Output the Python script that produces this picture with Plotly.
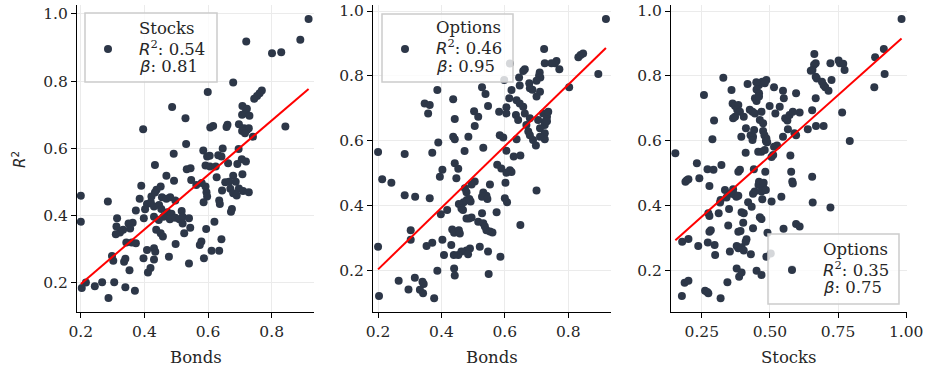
import plotly.graph_objects as go

W, H = 931, 368

# ---------------- data ----------------
# Panel 1: Bonds (x) vs Stocks (y)
p1_x = [0.916,0.720,0.890,0.801,0.830,0.679,0.599,0.769,0.762,0.754,0.745,0.487,0.708,0.529,0.722,0.717,0.707,0.730,
        0.396,0.607,0.616,0.661,0.658,0.843,0.697,0.713,0.722,0.728,0.707,0.716,0.741,0.531,0.492,0.585,0.605,0.597,
        0.646,0.632,0.642,0.663,0.696,0.706,0.692,0.719,0.592,0.606,0.624,0.433,0.533,0.545,0.469,0.627,0.679,0.708,
        0.687,0.654,0.666,0.547,0.563,0.592,0.580,0.493,0.390,0.451,0.438,0.670,0.644,0.679,0.697,0.710,0.728,0.595,
        0.597,0.690,0.385,0.422,0.433,0.455,0.469,0.481,0.497,0.635,0.637,0.586,0.408,0.420,0.430,0.446,0.453,0.675,
        0.672,0.373,0.402,0.517,0.472,0.485,0.430,0.445,0.460,0.480,0.497,0.510,0.520,0.540,0.314,0.398,0.200,0.620,
        0.520,0.363,0.350,0.544,0.594,0.355,0.333,0.323,0.312,0.437,0.451,0.458,0.525,0.310,0.579,0.574,0.642,0.498,
        0.343,0.360,0.373,0.611,0.635,0.408,0.430,0.434,0.298,0.302,0.397,0.430,0.477,0.587,0.336,0.340,0.353,0.419,
        0.411,0.540,0.216,0.203,0.244,0.267,0.305,0.340,0.370,0.287,0.200,0.285]
p1_y = [0.985,0.918,0.923,0.883,0.886,0.796,0.768,0.772,0.764,0.756,0.748,0.723,0.726,0.690,0.718,0.705,0.700,0.697,
        0.657,0.662,0.667,0.670,0.664,0.665,0.672,0.660,0.655,0.660,0.652,0.645,0.635,0.613,0.584,0.594,0.578,0.576,
        0.600,0.580,0.576,0.556,0.598,0.568,0.554,0.561,0.549,0.546,0.546,0.551,0.538,0.541,0.519,0.514,0.519,0.523,
        0.501,0.499,0.501,0.506,0.491,0.487,0.497,0.504,0.489,0.487,0.477,0.480,0.475,0.467,0.481,0.473,0.470,0.470,
        0.457,0.460,0.450,0.457,0.469,0.455,0.450,0.455,0.445,0.445,0.435,0.440,0.435,0.440,0.427,0.432,0.420,0.420,
        0.412,0.415,0.419,0.414,0.410,0.406,0.397,0.387,0.397,0.389,0.394,0.389,0.397,0.392,0.392,0.392,0.382,0.382,
        0.377,0.379,0.377,0.364,0.360,0.362,0.358,0.350,0.368,0.358,0.348,0.338,0.348,0.345,0.323,0.313,0.330,0.316,
        0.320,0.320,0.318,0.296,0.296,0.298,0.303,0.293,0.280,0.266,0.273,0.270,0.278,0.273,0.263,0.272,0.238,0.244,
        0.231,0.258,0.201,0.185,0.190,0.202,0.202,0.187,0.177,0.155,0.459,0.442]

# Panel 2: Bonds (x) vs Options (y)
p2_x = [0.919,0.724,0.832,0.839,0.847,0.895,0.803,0.763,0.758,0.747,0.726,0.772,0.710,0.708,0.712,0.700,0.663,0.658,
        0.645,0.647,0.616,0.598,0.621,0.677,0.679,0.687,0.711,0.700,0.614,0.528,0.539,0.387,0.437,0.347,0.363,0.358,
        0.442,0.503,0.516,0.547,0.582,0.605,0.605,0.637,0.647,0.658,0.663,0.635,0.642,0.679,0.668,0.721,0.733,0.726,
        0.705,0.737,0.726,0.733,0.711,0.726,0.674,0.679,0.689,0.698,0.726,0.711,0.505,0.437,0.442,0.485,0.390,0.584,
        0.595,0.637,0.532,0.649,0.628,0.284,0.200,0.371,0.473,0.605,0.442,0.453,0.403,0.395,0.447,0.576,0.589,0.616,
        0.621,0.605,0.602,0.700,0.553,0.505,0.495,0.474,0.479,0.213,0.242,0.284,0.317,0.363,0.600,0.607,0.532,0.542,
        0.528,0.545,0.470,0.480,0.492,0.488,0.455,0.418,0.398,0.463,0.468,0.479,0.487,0.495,0.528,0.574,0.516,0.532,
        0.537,0.542,0.553,0.561,0.649,0.303,0.303,0.434,0.440,0.455,0.458,0.403,0.371,0.353,0.431,0.200,0.521,0.547,
        0.490,0.479,0.463,0.453,0.439,0.484,0.408,0.586,0.440,0.442,0.387,0.549,0.265,0.316,0.340,0.344,0.332,0.342,
        0.296,0.377,0.203]
p2_y = [0.975,0.883,0.857,0.864,0.869,0.806,0.765,0.846,0.839,0.839,0.839,0.820,0.810,0.800,0.795,0.785,0.820,0.815,
        0.795,0.770,0.838,0.787,0.756,0.777,0.762,0.757,0.751,0.736,0.731,0.765,0.744,0.756,0.728,0.715,0.710,0.684,
        0.667,0.691,0.674,0.707,0.689,0.703,0.684,0.725,0.715,0.705,0.684,0.679,0.664,0.669,0.648,0.684,0.674,0.658,
        0.664,0.689,0.648,0.660,0.638,0.623,0.628,0.617,0.602,0.585,0.604,0.612,0.645,0.612,0.604,0.612,0.594,0.617,
        0.610,0.604,0.578,0.554,0.551,0.559,0.565,0.563,0.568,0.569,0.530,0.513,0.510,0.489,0.484,0.526,0.514,0.509,
        0.503,0.501,0.470,0.446,0.465,0.474,0.465,0.453,0.441,0.481,0.470,0.432,0.427,0.422,0.422,0.410,0.440,0.430,
        0.427,0.420,0.410,0.417,0.412,0.420,0.405,0.386,0.373,0.391,0.386,0.360,0.360,0.363,0.376,0.379,0.350,0.345,
        0.335,0.324,0.320,0.317,0.340,0.324,0.294,0.326,0.316,0.324,0.314,0.294,0.285,0.275,0.278,0.273,0.273,0.258,
        0.267,0.261,0.258,0.247,0.247,0.250,0.247,0.242,0.206,0.184,0.199,0.189,0.168,0.177,0.165,0.158,0.140,0.129,
        0.141,0.114,0.121]

# Panel 3: Stocks (x) vs Options (y)
p3_x = [0.983,0.918,0.886,0.921,0.883,0.663,0.668,0.662,0.656,0.650,0.668,0.672,0.722,0.752,0.757,0.769,0.774,0.726,
        0.703,0.715,0.697,0.691,0.765,0.793,0.668,0.655,0.669,0.697,0.639,0.609,0.596,0.548,0.551,0.596,0.515,0.460,
        0.472,0.487,0.481,0.418,0.329,0.450,0.451,0.460,0.445,0.451,0.460,0.499,0.520,0.536,0.556,0.564,0.572,0.584,
        0.566,0.590,0.548,0.359,0.363,0.372,0.384,0.380,0.365,0.372,0.390,0.404,0.426,0.436,0.445,0.412,0.395,0.429,
        0.438,0.436,0.442,0.475,0.480,0.487,0.485,0.490,0.463,0.475,0.469,0.258,0.295,0.289,0.153,0.232,0.241,0.190,
        0.195,0.201,0.271,0.293,0.322,0.278,0.335,0.384,0.390,0.411,0.457,0.469,0.481,0.487,0.515,0.526,0.506,0.512,
        0.575,0.578,0.582,0.584,0.483,0.441,0.460,0.458,0.467,0.475,0.469,0.444,0.438,0.477,0.485,0.472,0.506,0.542,
        0.420,0.433,0.365,0.356,0.341,0.319,0.317,0.369,0.377,0.384,0.312,0.274,0.278,0.350,0.347,0.396,0.404,0.402,
        0.384,0.392,0.438,0.463,0.469,0.491,0.550,0.657,0.655,0.596,0.609,0.722,0.283,0.278,0.272,0.297,0.299,0.237,
        0.178,0.201,0.353,0.378,0.384,0.396,0.404,0.414,0.411,0.430,0.487,0.378,0.387,0.396,0.451,0.469,0.581,0.187,
        0.201,0.177,0.262,0.274,0.270,0.319,0.344,0.503]
p3_y = [0.975,0.883,0.857,0.806,0.765,0.867,0.839,0.834,0.818,0.816,0.797,0.792,0.839,0.847,0.839,0.837,0.818,0.787,
        0.765,0.754,0.771,0.782,0.687,0.599,0.731,0.694,0.645,0.645,0.635,0.687,0.617,0.754,0.731,0.746,0.765,0.772,
        0.782,0.787,0.777,0.775,0.794,0.780,0.758,0.746,0.731,0.722,0.736,0.707,0.684,0.705,0.669,0.662,0.679,0.689,
        0.635,0.623,0.612,0.756,0.715,0.707,0.710,0.695,0.669,0.674,0.689,0.674,0.695,0.689,0.684,0.638,0.612,0.617,
        0.612,0.602,0.633,0.630,0.617,0.607,0.600,0.595,0.664,0.654,0.689,0.741,0.662,0.604,0.561,0.530,0.484,0.473,
        0.478,0.481,0.512,0.510,0.525,0.460,0.448,0.504,0.510,0.563,0.566,0.566,0.571,0.597,0.581,0.585,0.550,0.556,
        0.554,0.504,0.474,0.468,0.504,0.512,0.473,0.463,0.468,0.456,0.443,0.443,0.436,0.470,0.448,0.419,0.412,0.427,
        0.410,0.396,0.450,0.437,0.425,0.417,0.409,0.434,0.427,0.430,0.376,0.376,0.368,0.389,0.338,0.379,0.376,0.347,
        0.319,0.321,0.330,0.364,0.358,0.316,0.328,0.409,0.489,0.343,0.335,0.394,0.324,0.319,0.286,0.278,0.247,0.275,
        0.288,0.297,0.258,0.275,0.268,0.271,0.261,0.296,0.288,0.250,0.242,0.206,0.180,0.193,0.199,0.186,0.203,0.162,
        0.168,0.121,0.137,0.129,0.133,0.114,0.163,0.252]

x_titles = ["Bonds", "Bonds", "Stocks"]
legend_names = ["Stocks", "Options", "Options"]
r2_values = [0.54, 0.46, 0.35]
betas = [0.81, 0.95, 0.75]
intercepts = [0.035, 0.013, 0.178]
x_tickvals = [[0.2, 0.4, 0.6, 0.8], [0.2, 0.4, 0.6, 0.8], [0.25, 0.5, 0.75, 1.0]]
x_ticktext = [["0.2", "0.4", "0.6", "0.8"], ["0.2", "0.4", "0.6", "0.8"], ["0.25", "0.50", "0.75", "1.00"]]
y_tickvals = [0.2, 0.4, 0.6, 0.8, 1.0]
y_ticktext = ["0.2", "0.4", "0.6", "0.8", "1.0"]

# ---------------- layout geometry ----------------
x_ranges = [[0.188, 0.933], [0.184, 0.935], [0.137, 1.003]]
y_ranges = [[0.1135, 1.0265], [0.0715, 1.0185], [0.0715, 1.0185]]
px_domains = [(77, 314), (373, 611), (671, 907)]
py_top, py_bottom = 5, 312

DOT = "#2d3748"
SERIF = "DejaVu Serif"
TXT = "#262626"
TICK_SIZE = 15.5
LABEL_SIZE = 16.5

fig = go.Figure()
panels = [(p1_x, p1_y), (p2_x, p2_y), (p3_x, p3_y)]
for i, (xs, ys) in enumerate(panels):
    ax = "" if i == 0 else str(i + 1)
    fig.add_trace(go.Scatter(x=xs, y=ys, mode="markers", xaxis="x" + ax, yaxis="y" + ax,
                             marker=dict(color=DOT, size=8, line=dict(width=0)), showlegend=False))
    x0, x1 = min(xs), max(xs)
    fig.add_trace(go.Scatter(x=[x0, x1], y=[intercepts[i] + betas[i] * x0, intercepts[i] + betas[i] * x1],
                             mode="lines", xaxis="x" + ax, yaxis="y" + ax,
                             line=dict(color="#ff0000", width=2), showlegend=False))

axis_common = dict(showgrid=True, gridcolor="#ebebeb", gridwidth=1, zeroline=False,
                   showline=True, linecolor="#000000", linewidth=1.1,
                   ticks="outside", ticklen=5, tickwidth=1.1, tickcolor="#000000",
                   tickfont=dict(family=SERIF, size=TICK_SIZE, color=TXT), automargin=False)

layout = dict(width=W, height=H, margin=dict(l=0, r=0, t=0, b=0),
              plot_bgcolor="white", paper_bgcolor="white", showlegend=False)
ydom = [1 - py_bottom / H, 1 - py_top / H]
for i in range(3):
    ax = "" if i == 0 else str(i + 1)
    layout["xaxis" + ax] = dict(axis_common, domain=[px_domains[i][0] / W, px_domains[i][1] / W],
                                range=x_ranges[i], tickvals=x_tickvals[i], ticktext=x_ticktext[i],
                                anchor="y" + ax)
    layout["yaxis" + ax] = dict(axis_common, domain=ydom, range=y_ranges[i],
                                tickvals=y_tickvals, ticktext=y_ticktext, anchor="x" + ax)
fig.update_layout(**layout)

shapes = []
annotations = []
# legends (box, marker, text) in pixel positions
leg_boxes = [(85, 13, 217, 82), (382, 14, 513, 82), (768, 234, 899, 304)]
leg_marker = [(108, 49), (405, 49), (792, 270)]
leg_text = [(137, 47.5), (434, 47), (821, 268.5)]
LINE_GAP = 19.3
for i in range(3):
    bx0, by0, bx1, by1 = leg_boxes[i]
    shapes.append(dict(type="rect", xref="paper", yref="paper", x0=bx0 / W, x1=bx1 / W,
                       y0=1 - by1 / H, y1=1 - by0 / H, fillcolor="rgba(255,255,255,0.8)",
                       line=dict(color="#cccccc", width=1.5), layer="above"))
    mx, my = leg_marker[i]
    shapes.append(dict(type="circle", xref="paper", yref="paper", xsizemode="pixel", ysizemode="pixel",
                       xanchor=mx / W, yanchor=1 - my / H, x0=-4, x1=4, y0=-4, y1=4,
                       fillcolor=DOT, line=dict(width=0), layer="above"))
    tx, ty = leg_text[i]
    lines = [legend_names[i],
             f"<span style='font-family:DejaVu Sans'><i>R</i></span><sup>2</sup>: {r2_values[i]:.2f}",
             f"<span style='font-family:DejaVu Sans'><i>β</i></span>: {betas[i]:.2f}"]
    for k, line in enumerate(lines):
        annotations.append(dict(text=line, xref="paper", yref="paper", x=tx / W,
                                y=1 - (ty + (k - 1) * LINE_GAP) / H,
                                xanchor="left", yanchor="middle", align="left", showarrow=False,
                                font=dict(family=SERIF, size=LABEL_SIZE, color=TXT)))

# axis titles
for i in range(3):
    cx = (px_domains[i][0] + px_domains[i][1]) / 2
    annotations.append(dict(text=x_titles[i], xref="paper", yref="paper", x=cx / W, y=1 - 357 / H,
                            xanchor="center", yanchor="middle", showarrow=False,
                            font=dict(family=SERIF, size=LABEL_SIZE, color=TXT)))
annotations.append(dict(text="<i>R</i><sup>2</sup>", xref="paper", yref="paper", x=19 / W, y=1 - 160 / H,
                        xanchor="center", yanchor="middle", showarrow=False, textangle=-90,
                        font=dict(family="DejaVu Sans", size=15, color=TXT)))

fig.update_layout(shapes=shapes, annotations=annotations)
fig.write_html("out.html", config={"displayModeBar": False},
               post_script="document.body.style.margin='0';document.body.style.overflow='hidden';")
